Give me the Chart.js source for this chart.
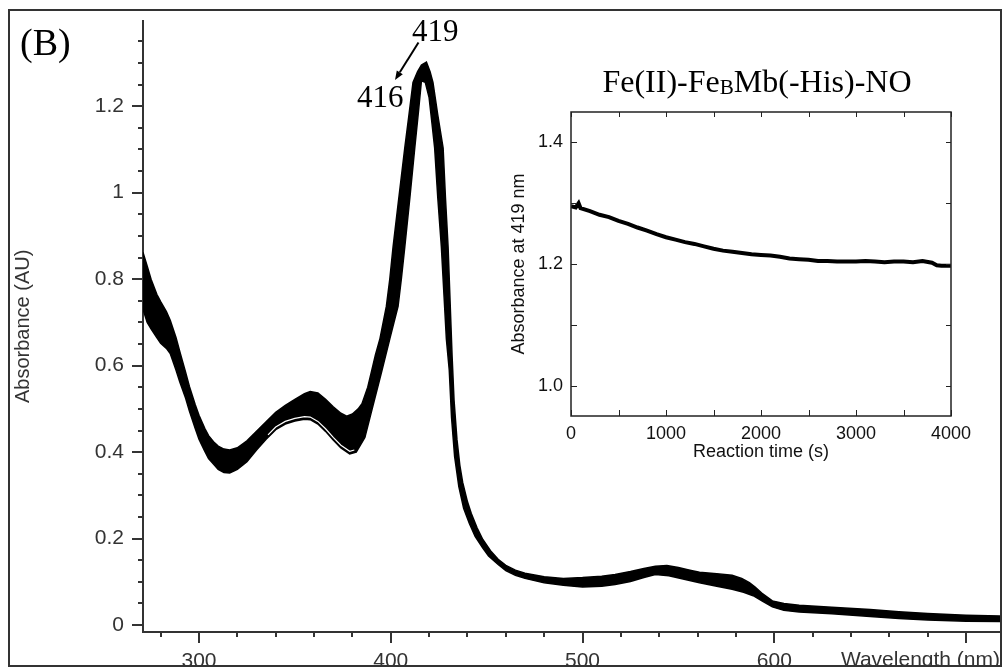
<!DOCTYPE html>
<html>
<head>
<meta charset="utf-8">
<title>Fe(II)-FeBMb(-His)-NO absorbance</title>
<script src="https://cdn.jsdelivr.net/npm/chart.js@4.4.1/dist/chart.umd.min.js"></script>
<style>
  body { margin: 0; background: #fff; }
  #page { position: relative; width: 1002px; height: 668px; overflow: hidden; background: #fff; }
  #clip { position: absolute; left: 0; top: 0; width: 1001px; height: 666px; overflow: hidden; }
  #mainChart { position: absolute; left: 0; top: 0; }
  #insetChart { position: absolute; left: 490px; top: 50px; }
  #frame { position: absolute; left: 8px; top: 9px; width: 994px; height: 658px; box-sizing: border-box; border: 2px solid #333; }
  .serif { position: absolute; font-family: "Liberation Serif", "DejaVu Serif", serif; color: #000; white-space: nowrap; line-height: 1; }
  #panel { left: 20px; top: 23px; font-size: 38px; }
  #peak419 { left: 412px; top: 15px; font-size: 31px; }
  #peak416 { left: 357px; top: 81px; font-size: 31px; }
  #insetTitle { left: 757px; top: 65px; font-size: 32px; transform: translateX(-50%); }
  #insetTitle span { font-size: 0.66em; vertical-align: -0.08em; }
  #arrow { position: absolute; left: 0; top: 0; }
</style>
</head>
<body>
<div id="page">
  <div id="clip"><canvas id="mainChart" width="1002" height="700"></canvas></div>
  <canvas id="insetChart" width="500" height="430"></canvas>
  <div id="frame"></div>
  <div class="serif" id="panel">(B)</div>
  <div class="serif" id="peak419">419</div>
  <div class="serif" id="peak416">416</div>
  <div class="serif" id="insetTitle">Fe(II)-Fe<span>B</span>Mb(-His)-NO</div>
  <svg id="arrow" width="1002" height="668">
    <line x1="418.5" y1="42.5" x2="399.8" y2="72.3" stroke="#000" stroke-width="2"/>
    <polygon points="395,80 402.8,74.2 396.8,70.4" fill="#000"/>
  </svg>
</div>
<script>
// main spectra: upper and lower edge of the bundle of overlaid scans
const upperWl = [270.8, 273, 275, 278, 280, 283, 285, 288, 290, 293, 295, 298, 300, 303, 305, 308, 310, 313, 316, 320,
  325, 330, 335, 340, 345, 350, 355, 358, 362, 366, 370, 374, 377, 380, 383, 385, 388, 390, 392, 394.3,
  397.7, 399.5, 401.2, 404, 407.3, 409.5, 411.6, 414, 416, 418.6, 420.5, 422, 424.5, 427.3, 428.5, 429.9, 431, 432, 433, 434.5,
  436, 437.5, 440, 442, 445, 448, 452, 456, 460, 465, 470, 475, 480, 490, 500, 510, 517, 525, 532, 538,
  544, 550, 556, 561, 570, 578, 583, 587, 590, 594, 599, 605, 613, 630, 650, 665, 680, 700, 718];
const upperAbs = [0.862, 0.83, 0.80, 0.765, 0.748, 0.725, 0.705, 0.665, 0.632, 0.585, 0.552, 0.51, 0.485, 0.455, 0.438, 0.422, 0.414, 0.407, 0.405, 0.41,
  0.426, 0.448, 0.47, 0.492, 0.508, 0.522, 0.535, 0.54, 0.537, 0.522, 0.505, 0.49, 0.483, 0.488, 0.5, 0.512, 0.55, 0.587, 0.625, 0.661,
  0.737, 0.80, 0.874, 0.98, 1.103, 1.18, 1.255, 1.28, 1.295, 1.302, 1.28, 1.255, 1.18, 1.103, 0.99, 0.874, 0.74, 0.62, 0.52, 0.43,
  0.37, 0.33, 0.285, 0.258, 0.225, 0.198, 0.172, 0.152, 0.138, 0.127, 0.12, 0.116, 0.112, 0.108, 0.11, 0.113, 0.117, 0.124, 0.131, 0.136,
  0.138, 0.133, 0.127, 0.122, 0.119, 0.115, 0.108, 0.098, 0.088, 0.072, 0.056, 0.05, 0.046, 0.041, 0.036, 0.031, 0.027, 0.023, 0.021];

const lowerWl = [270.8, 273, 275, 278, 280, 283, 285, 288, 290, 293, 295, 298, 300, 303, 305, 308, 310, 313, 316, 320,
  325, 330, 335, 340, 345, 350, 355, 358, 362, 366, 370, 374, 378.6, 382, 384, 386.5, 390.8, 395.2, 399.5, 403.8,
  405.5, 407.3, 410, 412.5, 414.5, 416, 418, 420, 421.5, 422.9, 424.5, 426.4, 427.8, 429, 430.5, 431.7, 433.3, 435.5, 438, 441,
  444, 448, 451, 456, 460, 465, 470, 480, 490, 500, 510, 517, 525, 532, 538, 545, 553, 561, 570, 578,
  584, 589, 594, 599, 605, 613, 630, 650, 665, 680, 700, 718];
const lowerAbs = [0.73, 0.70, 0.685, 0.665, 0.652, 0.64, 0.628, 0.59, 0.562, 0.525, 0.495, 0.455, 0.43, 0.402, 0.385, 0.37, 0.36, 0.353, 0.352, 0.36,
  0.378, 0.405, 0.43, 0.452, 0.465, 0.472, 0.476, 0.475, 0.465, 0.448, 0.428, 0.41, 0.396, 0.40, 0.415, 0.434, 0.509, 0.585, 0.662, 0.737,
  0.80, 0.874, 0.99, 1.103, 1.19, 1.259, 1.255, 1.22, 1.16, 1.103, 0.99, 0.874, 0.76, 0.662, 0.59, 0.48, 0.39, 0.32, 0.27, 0.235,
  0.205, 0.178, 0.16, 0.14, 0.126, 0.115, 0.108, 0.098, 0.092, 0.088, 0.09, 0.094, 0.101, 0.11, 0.117, 0.114, 0.106, 0.098, 0.09, 0.083,
  0.076, 0.068, 0.055, 0.042, 0.034, 0.030, 0.026, 0.02, 0.015, 0.012, 0.009, 0.008];

// final scan, seen as a thin white gap just above the lower edge
const lastWl = [336, 340, 345, 350, 355, 358, 362, 366, 370, 374, 378.6, 381];
const lastAbs = [0.44, 0.458, 0.471, 0.478, 0.482, 0.481, 0.471, 0.454, 0.434, 0.416, 0.402, 0.405];

// inset: absorbance at 419 nm vs time
const times = [0, 50, 80, 100, 200, 300, 400, 500, 600, 700, 800, 900, 1000, 1100, 1200, 1300, 1400, 1500, 1600, 1700,
  1800, 1900, 2000, 2100, 2200, 2300, 2400, 2500, 2600, 2700, 2800, 2900, 3000, 3100, 3200, 3300, 3400, 3500, 3600, 3700,
  3800, 3850, 3900, 4000];
const abs419 = [1.295, 1.293, 1.300, 1.292, 1.287, 1.281, 1.277, 1.271, 1.266, 1.260, 1.255, 1.249, 1.244, 1.240, 1.236, 1.233, 1.229, 1.225, 1.222, 1.220,
  1.218, 1.216, 1.215, 1.214, 1.212, 1.209, 1.208, 1.207, 1.205, 1.205, 1.204, 1.204, 1.204, 1.205, 1.204, 1.203, 1.204, 1.204, 1.203, 1.205,
  1.202, 1.198, 1.197, 1.197];

// ticks
const wlTicks = [300, 400, 500, 600, 700];
const wlLabels = ['300', '400', '500', '600', ''];
const wlMinor = [280, 320, 340, 360, 380, 420, 440, 460, 480, 520, 540, 560, 580, 620, 640, 660, 680];
const absTicks = [0, 0.2, 0.4, 0.6, 0.8, 1, 1.2];
const absLabels = ['0', '0.2', '0.4', '0.6', '0.8', '1', '1.2'];
const absMinor = [0.05, 0.1, 0.15, 0.25, 0.3, 0.35, 0.45, 0.5, 0.55, 0.65, 0.7, 0.75, 0.85, 0.9, 0.95, 1.05, 1.1, 1.15, 1.25, 1.3, 1.35];
const timeTicks = [0, 1000, 2000, 3000, 4000];
const timeMinor = [500, 1500, 2500, 3500];
const insetTicks = [1.0, 1.2, 1.4];
const insetLabels = ['1.0', '1.2', '1.4'];
const insetMinor = [1.1, 1.3];

const pts = (xs, ys) => xs.map((x, i) => ({ x: x, y: ys[i] }));
const setTicks = vals => scale => { scale.ticks = vals.map(v => ({ value: v })); };

Chart.defaults.font.family = '"Liberation Sans", Arial, sans-serif';

const minorTicks = {
  id: 'minorTicks',
  afterDraw(chart) {
    const { ctx, scales: { x, y } } = chart;
    ctx.save();
    ctx.strokeStyle = '#333';
    ctx.lineWidth = 2;
    ctx.beginPath();
    wlMinor.forEach(v => {
      const px = Math.round(x.getPixelForValue(v));
      ctx.moveTo(px, y.bottom);
      ctx.lineTo(px, y.bottom + 5);
    });
    absMinor.forEach(v => {
      const py = Math.round(y.getPixelForValue(v));
      ctx.moveTo(x.left, py);
      ctx.lineTo(x.left - 5, py);
    });
    ctx.stroke();
    ctx.restore();
  }
};

new Chart(document.getElementById('mainChart'), {
  type: 'line',
  data: {
    datasets: [
      { data: pts(lastWl, lastAbs), borderColor: '#fff', borderWidth: 1.2, pointRadius: 0, fill: false },
      { data: pts(upperWl, upperAbs), borderColor: '#000', borderWidth: 1.5, pointRadius: 0, fill: '+1', backgroundColor: '#000' },
      { data: pts(lowerWl, lowerAbs), borderColor: '#000', borderWidth: 1.5, pointRadius: 0, fill: false },
    ],
  },
  options: {
    responsive: false,
    animation: false,
    layout: { padding: { top: 10, right: 2, left: 0, bottom: 0 } },
    plugins: { legend: { display: false }, tooltip: { enabled: false } },
    scales: {
      x: {
        type: 'linear',
        min: 270.8,
        max: 717.7,
        afterFit: s => { s.height = 68; },
        afterBuildTicks: setTicks(wlTicks),
        border: { display: true, color: '#333', width: 2 },
        grid: { drawOnChartArea: false, drawTicks: true, tickLength: 11, color: '#333', lineWidth: 2 },
        ticks: { padding: 6, color: '#333', font: { size: 21 }, maxRotation: 0, autoSkip: false, callback: (v, i) => wlLabels[i] },
        title: { display: true, text: 'Wavelength (nm)', align: 'end', color: '#333', font: { size: 21 }, padding: { top: 0, bottom: 27 } },
      },
      y: {
        min: -0.016,
        max: 1.398,
        afterFit: s => { s.width = 143; },
        afterBuildTicks: setTicks(absTicks),
        border: { display: true, color: '#333', width: 2 },
        grid: { drawOnChartArea: false, drawTicks: true, tickLength: 11, color: '#333', lineWidth: 2 },
        ticks: { padding: 8, color: '#333', font: { size: 21 }, callback: (v, i) => absLabels[i] },
        title: { display: true, text: 'Absorbance (AU)', color: '#333', font: { size: 20 }, padding: { top: 11 } },
      },
    },
  },
  plugins: [minorTicks],
});

const insetFrame = {
  id: 'insetFrame',
  afterDraw(chart) {
    const { ctx, chartArea: a, scales: { x, y } } = chart;
    ctx.save();
    ctx.strokeStyle = '#222';
    ctx.lineWidth = 1.5;
    ctx.strokeRect(a.left, a.top, a.right - a.left, a.bottom - a.top);
    ctx.beginPath();
    timeTicks.concat(timeMinor).forEach(v => {
      const px = Math.round(x.getPixelForValue(v)) + 0.5;
      ctx.moveTo(px, a.bottom); ctx.lineTo(px, a.bottom - 6);
      ctx.moveTo(px, a.top); ctx.lineTo(px, a.top + 5);
    });
    insetTicks.concat(insetMinor).forEach(v => {
      const py = Math.round(y.getPixelForValue(v)) + 0.5;
      ctx.moveTo(a.left, py); ctx.lineTo(a.left + 6, py);
      ctx.moveTo(a.right, py); ctx.lineTo(a.right - 5, py);
    });
    ctx.lineWidth = 1;
    ctx.stroke();
    ctx.restore();
  }
};

new Chart(document.getElementById('insetChart'), {
  type: 'line',
  data: {
    datasets: [
      { data: pts(times, abs419), borderColor: '#000', borderWidth: 4, pointRadius: 0, fill: false },
    ],
  },
  options: {
    responsive: false,
    animation: false,
    layout: { padding: { top: 62, right: 39, left: 0, bottom: 0 } },
    plugins: { legend: { display: false }, tooltip: { enabled: false } },
    scales: {
      x: {
        type: 'linear',
        min: 0,
        max: 4000,
        afterFit: s => { s.height = 64; },
        afterBuildTicks: setTicks(timeTicks),
        border: { display: false },
        grid: { display: false, drawTicks: false },
        ticks: { padding: 7, color: '#111', font: { size: 18 }, maxRotation: 0, autoSkip: false, callback: v => String(v) },
        title: { display: true, text: 'Reaction time (s)', color: '#111', font: { size: 18 }, padding: { top: 0, bottom: 17 } },
      },
      y: {
        min: 0.95,
        max: 1.45,
        afterFit: s => { s.width = 81; },
        afterBuildTicks: setTicks(insetTicks),
        border: { display: false },
        grid: { display: false, drawTicks: false },
        ticks: { padding: 8, color: '#111', font: { size: 18 }, callback: (v, i) => insetLabels[i] },
        title: { display: true, text: 'Absorbance at 419 nm', color: '#111', font: { size: 18 }, padding: { top: 18 } },
      },
    },
  },
  plugins: [insetFrame],
});
</script>
</body>
</html>
